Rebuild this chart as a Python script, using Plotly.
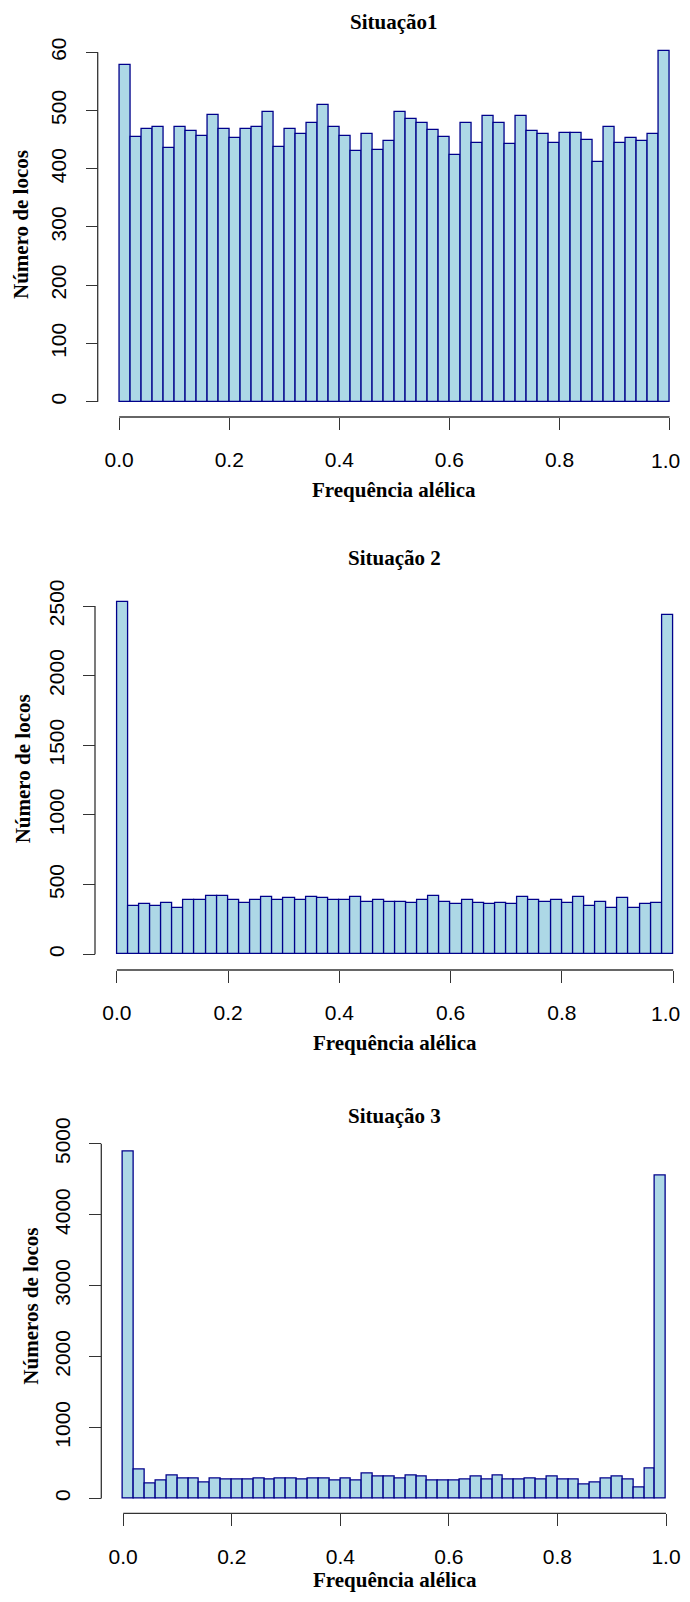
import plotly.graph_objects as go

# ---------------- data ----------------
bin_width = 0.02
bin_starts = [round(i * bin_width, 2) for i in range(50)]

counts_1 = [578, 455, 469, 472, 436, 472, 464, 457, 493, 469,
            452, 469, 472, 497, 438, 469, 460, 479, 509, 472,
            457, 431, 460, 433, 448, 497, 486, 479, 467, 455,
            424, 479, 445, 491, 479, 443, 491, 464, 460, 445,
            462, 462, 450, 412, 472, 445, 453, 448, 460, 602]

counts_2 = [2531, 349, 359, 349, 368, 330, 390, 390, 419, 419,
            390, 368, 390, 409, 390, 400, 390, 409, 400, 390,
            390, 409, 378, 390, 378, 378, 368, 390, 419, 378,
            359, 390, 368, 359, 368, 359, 409, 390, 378, 390,
            368, 409, 349, 378, 330, 400, 330, 359, 368, 2435]

counts_3 = [4883, 404, 207, 244, 324, 286, 286, 225, 286, 263,
            263, 263, 286, 263, 286, 286, 263, 286, 286, 244,
            286, 244, 343, 305, 305, 286, 324, 305, 244, 244,
            244, 263, 305, 263, 324, 263, 263, 286, 263, 305,
            263, 263, 188, 225, 286, 305, 263, 146, 423, 4549]

panel_titles = ["Situação1", "Situação 2", "Situação 3"]
y_titles = ["Número de locos", "Número de locos", "Números de locos"]
x_title = "Frequência alélica"

x_ticks = [0.0, 0.2, 0.4, 0.6, 0.8, 1.0]
x_ticklabels = ["0.0", "0.2", "0.4", "0.6", "0.8", "1.0"]
y_ticks_1 = [0, 100, 200, 300, 400, 500, 600]
y_ticklabels_1 = ["0", "100", "200", "300", "400", "500", "60"]
y_ticks_2 = [0, 500, 1000, 1500, 2000, 2500]
y_ticks_3 = [0, 1000, 2000, 3000, 4000, 5000]

# ---------------- geometry (screen pixels) ----------------
# The page body keeps its default 8px margin, so the figure is sized to fit
# the 690x1602 window inside it and screen positions are shifted by 8px.
OFF = 8
W, H = 690 - 2 * OFF, 1602 - 2 * OFF

def px(sx):
    return (sx - OFF) / W

def py(sy):
    return 1 - (sy - OFF) / H

panels = [
    dict(counts=counts_1, yt=y_ticks_1, ytl=y_ticklabels_1,
         x0=119.2, x1=669.6, y0=401.7, ytop=52.3, yr=[-10, 640],
         xline=417.0, xlab_y=460.0, yline=97.7, title_y=22, xtitle_y=490,
         ytitle_x=21, ytitle_y=225),
    dict(counts=counts_2, yt=y_ticks_2, ytl=[str(v) for v in y_ticks_2],
         x0=116.8, x1=673.2, y0=954.3, ytop=606.0, yr=[-50, 2650],
         xline=970.0, xlab_y=1013.3, yline=95.0, title_y=558.3, xtitle_y=1043,
         ytitle_x=23.3, ytitle_y=769),
    dict(counts=counts_3, yt=y_ticks_3, ytl=[str(v) for v in y_ticks_3],
         x0=123.2, x1=666.0, y0=1498.4, ytop=1143.8, yr=[-100, 5200],
         xline=1513.3, xlab_y=1556.0, yline=101.3, title_y=1116, xtitle_y=1580,
         ytitle_x=30.7, ytitle_y=1306),
]

xr = [-0.01, 1.01]
tick_font = dict(family="Liberation Sans, Arial, sans-serif", size=21, color="black")
serif_bold = dict(family="Liberation Serif, Times New Roman, serif", size=21, color="black")
axis_col = "#333333"
half_label_w = 15.0   # approx half width of a "1.0" tick label at 21px

fig = go.Figure()
layout = dict(template="none", width=W, height=H,
              margin=dict(l=0, r=0, t=0, b=0, pad=0, autoexpand=False),
              autosize=False,
              paper_bgcolor="white", plot_bgcolor="white", showlegend=False,
              bargap=0)
shapes, annotations = [], []

for i, p in enumerate(panels, start=1):
    xs = "" if i == 1 else str(i)
    centers = [s + bin_width / 2 for s in bin_starts]
    fig.add_trace(go.Bar(
        x=centers, y=p["counts"], width=[bin_width] * len(centers),
        marker=dict(color="#ADD8E6", line=dict(color="#00008B", width=1.3)),
        xaxis="x" + xs, yaxis="y" + xs, hoverinfo="x+y"))

    span_x = p["x1"] - p["x0"]
    sx0 = p["x0"] + xr[0] * span_x
    sx1 = p["x0"] + xr[1] * span_x
    ppu_y = (p["y0"] - p["ytop"]) / p["yt"][-1]
    sy_bot = p["y0"] - p["yr"][0] * ppu_y
    sy_top = p["y0"] - p["yr"][1] * ppu_y

    # last x tick label would run past the right edge -> draw it as a
    # right-aligned text instead so it stays fully visible
    last_overflows = p["x1"] + half_label_w > OFF + W
    ticktext = list(x_ticklabels)
    if last_overflows:
        ticktext[-1] = ""
        annotations.append(dict(text=x_ticklabels[-1], xref="paper", yref="paper",
                                x=1.0, y=py(p["xlab_y"]), showarrow=False,
                                xanchor="right", yanchor="middle", font=tick_font))

    layout["xaxis" + xs] = dict(
        domain=[px(sx0), px(sx1)], range=xr, anchor="free", automargin=False,
        position=py(p["xline"]), showline=False, showgrid=False, zeroline=False,
        ticks="outside", ticklen=12, tickwidth=1.3, tickcolor=axis_col,
        tickvals=x_ticks, ticktext=ticktext,
        tickfont=tick_font, ticklabelstandoff=12, ticklabeloverflow="allow",
        fixedrange=True)
    layout["yaxis" + xs] = dict(
        domain=[py(sy_bot), py(sy_top)], range=p["yr"], anchor="free", automargin=False,
        position=px(p["yline"]), showline=False, showgrid=False, zeroline=False,
        ticks="outside", ticklen=12, tickwidth=1.3, tickcolor=axis_col,
        tickvals=p["yt"], ticktext=p["ytl"], tickangle=-90,
        tickfont=tick_font, ticklabelstandoff=11, ticklabeloverflow="allow",
        fixedrange=True)

    shapes.append(dict(type="line", xref="x" + xs, yref="paper",
                       x0=x_ticks[0], x1=x_ticks[-1],
                       y0=py(p["xline"]), y1=py(p["xline"]),
                       line=dict(color=axis_col, width=1.3)))
    shapes.append(dict(type="line", xref="paper", yref="y" + xs,
                       x0=px(p["yline"]), x1=px(p["yline"]),
                       y0=p["yt"][0], y1=p["yt"][-1],
                       line=dict(color=axis_col, width=1.3)))

    annotations.append(dict(text="<b>" + panel_titles[i - 1] + "</b>", xref="x" + xs, yref="paper",
                            x=0.5, y=py(p["title_y"]), showarrow=False,
                            xanchor="center", yanchor="middle", font=serif_bold))
    annotations.append(dict(text="<b>" + x_title + "</b>", xref="x" + xs, yref="paper",
                            x=0.5, y=py(p["xtitle_y"]), showarrow=False,
                            xanchor="center", yanchor="middle", font=serif_bold))
    annotations.append(dict(text="<b>" + y_titles[i - 1] + "</b>", xref="paper", yref="paper",
                            x=px(p["ytitle_x"]), y=py(p["ytitle_y"]), showarrow=False,
                            textangle=-90, xanchor="center", yanchor="middle", font=serif_bold))

layout["shapes"] = shapes
layout["annotations"] = annotations
fig.update_layout(**layout)
fig.write_html("out.html", config={"displayModeBar": False})
